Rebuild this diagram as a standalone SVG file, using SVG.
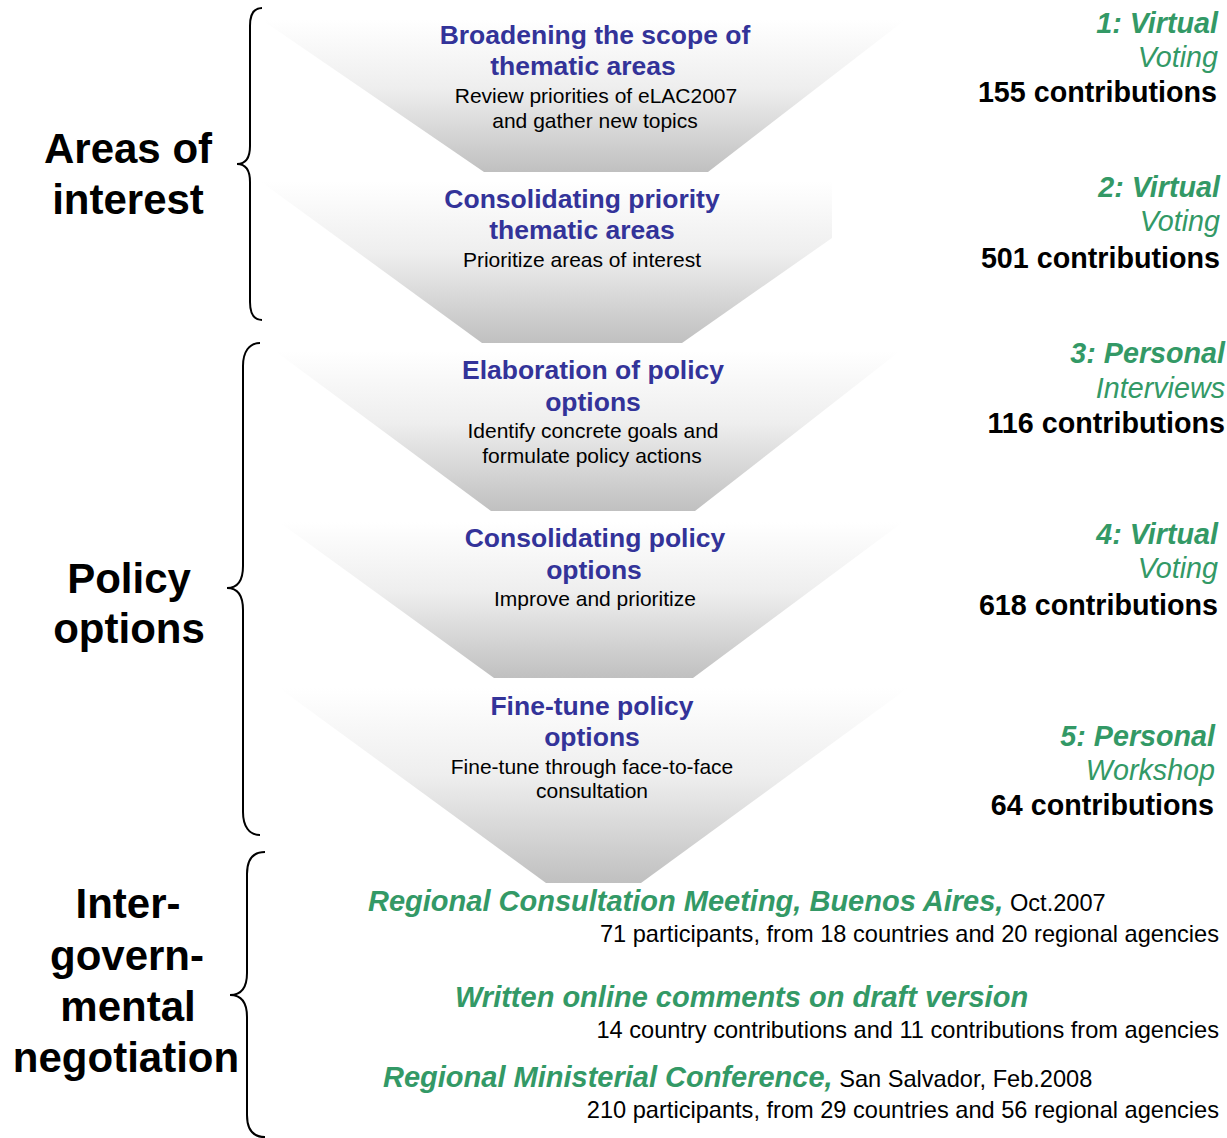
<svg xmlns="http://www.w3.org/2000/svg" width="1227" height="1138" viewBox="0 0 1227 1138">
  <defs>
    <linearGradient id="fade" x1="0" y1="0" x2="0" y2="1">
      <stop offset="0" stop-color="#ffffff"/>
      <stop offset="0.45" stop-color="#eeeeee"/>
      <stop offset="1" stop-color="#c0c0c0"/>
    </linearGradient>
    <style>
      text { font-family: "Liberation Sans", Arial, sans-serif; }
      .funnel { fill: url(#fade); stroke: none; }
      .title { font-size: 26.5px; font-weight: bold; fill: #333399; text-anchor: middle; }
      .sub { font-size: 21px; fill: #000000; text-anchor: middle; }
      .side { font-size: 42px; font-weight: bold; fill: #000000; text-anchor: middle; }
      .gb { font-size: 28.7px; font-weight: bold; font-style: italic; fill: #339966; text-anchor: end; }
      .gi { font-size: 28.7px; font-style: italic; fill: #339966; text-anchor: end; }
      .cnt { font-size: 28.7px; font-weight: bold; fill: #000000; text-anchor: end; }
      .ev { font-size: 29px; font-weight: bold; font-style: italic; fill: #339966; }
      .evs { font-size: 23.6px; font-weight: normal; font-style: normal; fill: #000000; }
      .det { font-size: 23.6px; fill: #000000; text-anchor: end; }
      .brace { fill: none; stroke: #000000; stroke-width: 2; }
    </style>
  </defs>

  <rect width="1227" height="1138" fill="#ffffff"/>

  <g id="funnel-1">
    <polygon class="funnel" points="262,20 905,20 708,172 484,172"/>
    <text class="title" x="595" y="44">Broadening the scope of</text>
    <text class="title" x="583" y="75">thematic areas</text>
    <text class="sub" x="596" y="103">Review priorities of eLAC2007</text>
    <text class="sub" x="595" y="128">and gather new topics</text>
  </g>

  <g id="funnel-2">
    <polygon class="funnel" points="260,181 832,181 832,238 682,343 482,343"/>
    <text class="title" x="582" y="208">Consolidating priority</text>
    <text class="title" x="582" y="239">thematic areas</text>
    <text class="sub" x="582" y="267">Prioritize areas of interest</text>
  </g>

  <g id="funnel-3">
    <polygon class="funnel" points="275,351 900,351 695,511 491,511"/>
    <text class="title" x="593" y="379">Elaboration of policy</text>
    <text class="title" x="593" y="411">options</text>
    <text class="sub" x="593" y="438">Identify concrete goals and</text>
    <text class="sub" x="592" y="463">formulate policy actions</text>
  </g>

  <g id="funnel-4">
    <polygon class="funnel" points="279,522 903,522 693,678 494,678"/>
    <text class="title" x="595" y="547">Consolidating policy</text>
    <text class="title" x="594" y="579">options</text>
    <text class="sub" x="595" y="606">Improve and prioritize</text>
  </g>

  <g id="funnel-5">
    <polygon class="funnel" points="279,688 908,688 641,883 546,883"/>
    <text class="title" x="592" y="715">Fine-tune policy</text>
    <text class="title" x="592" y="746">options</text>
    <text class="sub" x="592" y="774">Fine-tune through face-to-face</text>
    <text class="sub" x="592" y="798">consultation</text>
  </g>

  <g id="braces">
    <path class="brace" d="M262,8 C254,8 250,14 250,26 L250,146 C250,157 246,164 237,164 C246,164 250,171 250,182 L250,302 C250,314 254,320 262,320"/>
    <path class="brace" d="M260,343 C249,343 243,352 243,366 L243,566 C243,580 238,588 227,588 C238,588 243,596 243,610 L243,812 C243,826 249,835 260,835"/>
    <path class="brace" d="M265,852 C253,852 247,860 247,874 L247,973 C247,987 242,995 230,995 C242,995 247,1003 247,1017 L247,1115 C247,1129 253,1137 265,1137"/>
  </g>

  <g id="label-areas">
    <text class="side" x="128" y="163">Areas of</text>
    <text class="side" x="128" y="214">interest</text>
  </g>
  <g id="label-policy">
    <text class="side" x="129" y="593">Policy</text>
    <text class="side" x="129" y="643">options</text>
  </g>
  <g id="label-intergov">
    <text class="side" x="128" y="918">Inter-</text>
    <text class="side" x="127" y="970">govern-</text>
    <text class="side" x="128" y="1021">mental</text>
    <text class="side" x="126" y="1072">negotiation</text>
  </g>

  <g id="step-1">
    <text class="gb" x="1218" y="33">1: Virtual</text>
    <text class="gi" x="1218" y="67">Voting</text>
    <text class="cnt" x="1217" y="102">155 contributions</text>
  </g>
  <g id="step-2">
    <text class="gb" x="1220" y="197">2: Virtual</text>
    <text class="gi" x="1220" y="231">Voting</text>
    <text class="cnt" x="1220" y="268">501 contributions</text>
  </g>
  <g id="step-3">
    <text class="gb" x="1225" y="363">3: Personal</text>
    <text class="gi" x="1225" y="398">Interviews</text>
    <text class="cnt" x="1225" y="433">116 contributions</text>
  </g>
  <g id="step-4">
    <text class="gb" x="1218" y="544">4: Virtual</text>
    <text class="gi" x="1218" y="578">Voting</text>
    <text class="cnt" x="1218" y="615">618 contributions</text>
  </g>
  <g id="step-5">
    <text class="gb" x="1215" y="746">5: Personal</text>
    <text class="gi" x="1215" y="780">Workshop</text>
    <text class="cnt" x="1214" y="815">64 contributions</text>
  </g>

  <g id="event-buenos-aires">
    <text class="ev" x="368" y="911">Regional Consultation Meeting, Buenos Aires,<tspan class="evs"> Oct.2007</tspan></text>
    <text class="det" x="1219" y="942">71 participants, from 18 countries and 20 regional agencies</text>
  </g>
  <g id="event-online">
    <text class="ev" x="455" y="1007">Written online comments on draft version</text>
    <text class="det" x="1219" y="1038">14 country contributions and 11 contributions from agencies</text>
  </g>
  <g id="event-san-salvador">
    <text class="ev" x="383" y="1087">Regional Ministerial Conference,<tspan class="evs"> San Salvador, Feb.2008</tspan></text>
    <text class="det" x="1219" y="1118">210 participants, from 29 countries and 56 regional agencies</text>
  </g>
</svg>
